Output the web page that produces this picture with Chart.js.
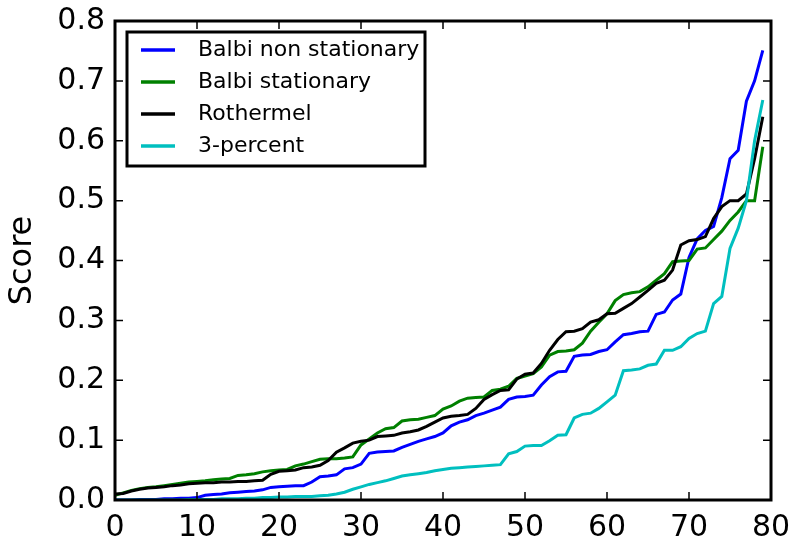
<!DOCTYPE html>
<html>
<head>
<meta charset="utf-8">
<script src="https://cdn.jsdelivr.net/npm/chart.js@4/dist/chart.umd.min.js"></script>
<style>
  html, body { margin: 0; padding: 0; background: #fff; }
  #wrap { width: 794px; height: 541px; }
</style>
</head>
<body>
<div id="wrap"><canvas id="chart"></canvas></div>
<script>
// ---------- Data (scores sorted ascending, one value per rank) ----------
const balbiNonStationary = [
  0.000, 0.000, 0.000, 0.001, 0.001, 0.001, 0.002, 0.002, 0.003, 0.003,
  0.004, 0.008, 0.009, 0.010, 0.012, 0.013, 0.014, 0.015, 0.017, 0.021,
  0.022, 0.023, 0.024, 0.024, 0.030, 0.039, 0.040, 0.042, 0.052, 0.054,
  0.060, 0.078, 0.080, 0.081, 0.082, 0.088, 0.093, 0.098, 0.102, 0.106,
  0.112, 0.124, 0.130, 0.134, 0.141, 0.145, 0.150, 0.155, 0.168, 0.172,
  0.173, 0.175, 0.192, 0.206, 0.214, 0.215, 0.240, 0.242, 0.243, 0.248,
  0.251, 0.264, 0.276, 0.278, 0.281, 0.282, 0.310, 0.314, 0.334, 0.344,
  0.405, 0.436, 0.450, 0.457, 0.505, 0.570, 0.584, 0.666, 0.700, 0.751,
];
const balbiStationary = [
  0.008, 0.012, 0.016, 0.019, 0.021, 0.022, 0.024, 0.026, 0.028, 0.030,
  0.031, 0.032, 0.034, 0.035, 0.036, 0.041, 0.042, 0.044, 0.047, 0.049,
  0.050, 0.051, 0.057, 0.060, 0.064, 0.068, 0.069, 0.069, 0.070, 0.072,
  0.092, 0.102, 0.112, 0.119, 0.121, 0.132, 0.134, 0.135, 0.138, 0.141,
  0.152, 0.157, 0.165, 0.170, 0.171, 0.172, 0.183, 0.185, 0.190, 0.203,
  0.207, 0.211, 0.222, 0.242, 0.248, 0.249, 0.251, 0.262, 0.282, 0.297,
  0.311, 0.333, 0.343, 0.346, 0.348, 0.356, 0.367, 0.378, 0.398, 0.399,
  0.400, 0.419, 0.421, 0.435, 0.449, 0.467, 0.481, 0.500, 0.500, 0.590,
];
const rothermel = [
  0.010, 0.011, 0.015, 0.018, 0.020, 0.021, 0.022, 0.024, 0.025, 0.027,
  0.028, 0.029, 0.029, 0.030, 0.030, 0.031, 0.031, 0.032, 0.033, 0.043,
  0.048, 0.049, 0.050, 0.054, 0.055, 0.058, 0.066, 0.080, 0.087, 0.095,
  0.098, 0.100, 0.106, 0.107, 0.108, 0.112, 0.114, 0.117, 0.123, 0.130,
  0.137, 0.140, 0.141, 0.143, 0.153, 0.168, 0.176, 0.183, 0.184, 0.202,
  0.210, 0.212, 0.228, 0.250, 0.268, 0.281, 0.282, 0.286, 0.297, 0.301,
  0.311, 0.312, 0.320, 0.328, 0.339, 0.350, 0.362, 0.367, 0.384, 0.426,
  0.433, 0.435, 0.440, 0.470, 0.490, 0.500, 0.500, 0.511, 0.570, 0.640,
];
const threePercent = [
  0.000, 0.000, 0.000, 0.000, 0.000, 0.000, 0.000, 0.000, 0.000, 0.001,
  0.001, 0.001, 0.001, 0.002, 0.002, 0.002, 0.003, 0.003, 0.004, 0.004,
  0.005, 0.005, 0.006, 0.006, 0.006, 0.007, 0.008, 0.010, 0.013, 0.018,
  0.022, 0.026, 0.029, 0.032, 0.036, 0.040, 0.042, 0.044, 0.046, 0.049,
  0.051, 0.053, 0.054, 0.055, 0.056, 0.057, 0.058, 0.059, 0.077, 0.081,
  0.090, 0.091, 0.091, 0.099, 0.108, 0.109, 0.137, 0.143, 0.145, 0.153,
  0.164, 0.175, 0.216, 0.217, 0.219, 0.225, 0.227, 0.250, 0.250, 0.256,
  0.270, 0.278, 0.282, 0.328, 0.340, 0.420, 0.454, 0.500, 0.600, 0.668,
];

const seriesLabels = ["Balbi non stationary", "Balbi stationary", "Rothermel", "3-percent"];
const seriesColors = ["#0000ff", "#008000", "#000000", "#00bfbf"];
const seriesValues = [balbiNonStationary, balbiStationary, rothermel, threePercent];
const xTicks = [0, 10, 20, 30, 40, 50, 60, 70, 80];
const yTicks = [0.0, 0.1, 0.2, 0.3, 0.4, 0.5, 0.6, 0.7, 0.8];

const FONT = "'DejaVu Sans', sans-serif";

// ---------- Frame, inward ticks and in-plot legend ----------
const framePlugin = {
  id: "frame",
  afterDraw(chart) {
    const { ctx, chartArea: a, scales: { x, y } } = chart;
    ctx.save();
    ctx.strokeStyle = "#000";
    ctx.lineWidth = 1.5;
    ctx.beginPath();
    xTicks.forEach((v) => {
      const px = x.getPixelForValue(v);
      ctx.moveTo(px, a.bottom); ctx.lineTo(px, a.bottom - 8);
      ctx.moveTo(px, a.top); ctx.lineTo(px, a.top + 8);
    });
    yTicks.forEach((v) => {
      const py = y.getPixelForValue(v);
      ctx.moveTo(a.left, py); ctx.lineTo(a.left + 8, py);
      ctx.moveTo(a.right, py); ctx.lineTo(a.right - 8, py);
    });
    ctx.stroke();
    ctx.lineWidth = 3;
    ctx.strokeRect(a.left, a.top, a.right - a.left, a.bottom - a.top);

    // legend box
    const bx = a.left + 12, by = a.top + 11, bw = 298, bh = 134;
    ctx.fillStyle = "#fff";
    ctx.fillRect(bx, by, bw, bh);
    ctx.lineWidth = 3;
    ctx.strokeRect(bx, by, bw, bh);
    ctx.font = `22px ${FONT}`;
    ctx.textBaseline = "middle";
    chart.data.datasets.forEach((ds, i) => {
      const ry = by + 18 + i * 32;
      ctx.strokeStyle = ds.borderColor;
      ctx.lineWidth = 3.5;
      ctx.beginPath();
      ctx.moveTo(bx + 14, ry); ctx.lineTo(bx + 48, ry);
      ctx.stroke();
      ctx.fillStyle = "#000";
      ctx.fillText(ds.label, bx + 71, ry);
    });
    ctx.restore();
  },
};

const ranks = balbiNonStationary.map((_, i) => i);

new Chart(document.getElementById("chart"), {
  type: "line",
  data: {
    datasets: seriesValues.map((vals, i) => ({
      label: seriesLabels[i],
      data: vals.map((v, j) => ({ x: ranks[j], y: v })),
      borderColor: seriesColors[i],
      borderWidth: 3,
      pointRadius: 0,
      tension: 0,
      fill: false,
      order: seriesValues.length - i,
    })),
  },
  options: {
    responsive: true,
    maintainAspectRatio: false,
    animation: false,
    devicePixelRatio: 1,
    layout: { padding: { top: 21, right: 23, left: 0, bottom: 0 } },
    plugins: { legend: { display: false }, tooltip: { enabled: false } },
    scales: {
      x: {
        type: "linear",
        min: 0, max: 80,
        grid: { display: false, drawTicks: false },
        border: { display: false },
        afterBuildTicks: (s) => { s.ticks = xTicks.map((v) => ({ value: v })); },
        afterFit: (s) => { s.height = 41; s.paddingLeft = 0; s.paddingRight = 0; },
        ticks: { color: "#000", font: { family: FONT, size: 30 }, padding: 10, maxRotation: 0 },
      },
      y: {
        min: 0, max: 0.8,
        grid: { display: false, drawTicks: false },
        border: { display: false },
        afterBuildTicks: (s) => { s.ticks = yTicks.map((v) => ({ value: v })); },
        afterFit: (s) => { s.width = 115; s.paddingTop = 0; s.paddingBottom = 0; },
        ticks: { color: "#000", font: { family: FONT, size: 30 }, padding: 10, callback: (v) => v.toFixed(1) },
        title: { display: true, text: "Score", color: "#000", font: { family: FONT, size: 32 }, padding: { top: 3, bottom: 0 } },
      },
    },
  },
  plugins: [framePlugin],
});
</script>
</body>
</html>
